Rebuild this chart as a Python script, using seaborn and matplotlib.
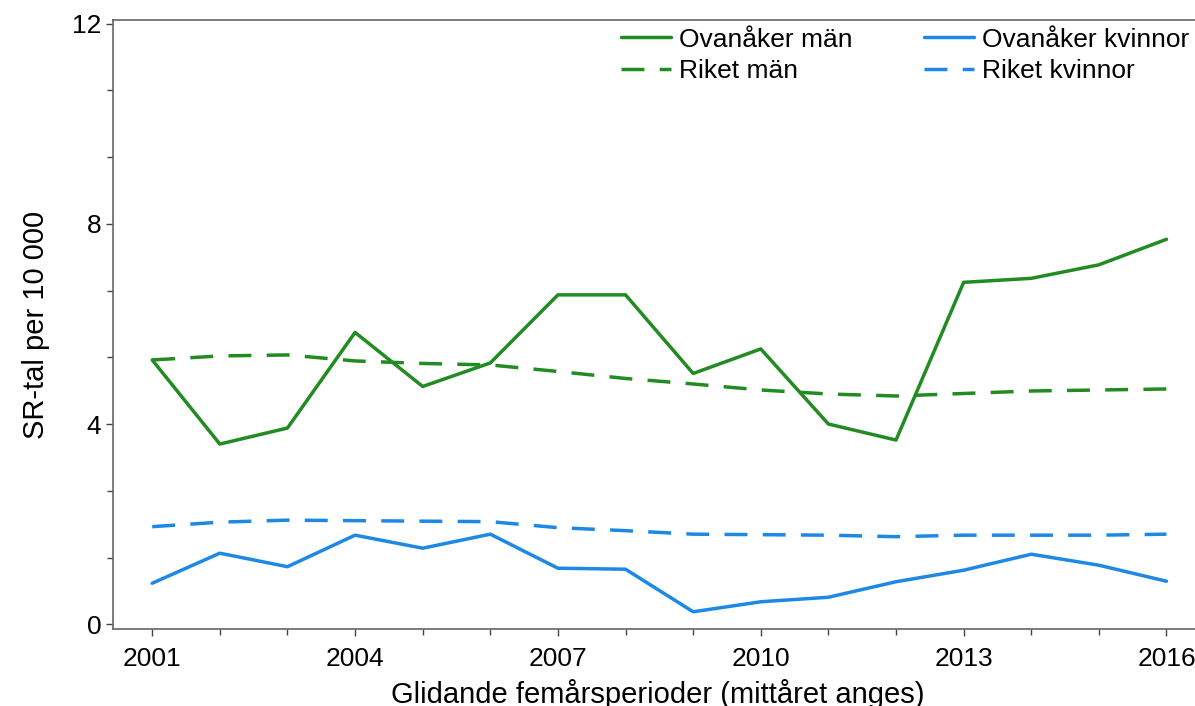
import matplotlib
matplotlib.use("Agg")
import matplotlib.pyplot as plt
import seaborn as sns
import pandas as pd
from matplotlib.ticker import MultipleLocator, FixedLocator

years = list(range(2001, 2017))

ovanaker_man = [5.28, 3.60, 3.92, 5.83, 4.75, 5.22, 6.58, 6.58, 5.01, 5.50, 4.00, 3.68, 6.83, 6.91, 7.18, 7.69]
riket_man = [5.28, 5.36, 5.38, 5.26, 5.21, 5.18, 5.05, 4.91, 4.80, 4.68, 4.60, 4.56, 4.61, 4.66, 4.68, 4.70]
ovanaker_kvinnor = [0.82, 1.42, 1.15, 1.78, 1.52, 1.80, 1.12, 1.10, 0.25, 0.45, 0.54, 0.85, 1.08, 1.40, 1.18, 0.86]
riket_kvinnor = [1.95, 2.04, 2.08, 2.07, 2.06, 2.05, 1.93, 1.87, 1.80, 1.79, 1.78, 1.75, 1.78, 1.78, 1.78, 1.80]

series_names = ["Ovanåker män", "Riket män", "Ovanåker kvinnor", "Riket kvinnor"]
series_values = [ovanaker_man, riket_man, ovanaker_kvinnor, riket_kvinnor]

green = "#228B22"
blue = "#1E88E5"
colors = {"Ovanåker män": green, "Riket män": green,
          "Ovanåker kvinnor": blue, "Riket kvinnor": blue}
dashes = {"Ovanåker män": "", "Riket män": (6.6, 4.4),
          "Ovanåker kvinnor": "", "Riket kvinnor": (6.6, 4.4)}

df = pd.concat([pd.DataFrame({"year": years, "value": v, "serie": n})
                for n, v in zip(series_names, series_values)], ignore_index=True)

sns.set_style("ticks")
plt.rcParams["font.family"] = ["Liberation Sans", "DejaVu Sans"]
plt.rcParams["text.color"] = "black"
plt.rcParams["axes.labelcolor"] = "black"

fig = plt.figure(figsize=(11.95, 7.06), dpi=100)
ax = fig.add_axes([113 / 1195, 77 / 706, 1090 / 1195, 609 / 706])

sns.lineplot(data=df, x="year", y="value", hue="serie", style="serie",
             palette=colors, dashes=dashes, hue_order=series_names,
             style_order=series_names, linewidth=2.5, ax=ax, legend=True)

ax.set_xlim(2000.42, 2016.54)
ax.set_ylim(-0.094, 12.07)
ax.xaxis.set_major_locator(FixedLocator([2001, 2004, 2007, 2010, 2013, 2016]))
ax.xaxis.set_minor_locator(MultipleLocator(1))
ax.yaxis.set_major_locator(FixedLocator([0, 4, 8, 12]))
ax.yaxis.set_minor_locator(MultipleLocator(4 / 3))
ax.tick_params(which="major", length=5, width=1, colors="#444444", labelcolor="black", labelsize=19)
ax.tick_params(axis="x", which="major", pad=8)
ax.tick_params(which="minor", length=4, width=1, colors="#444444")
for side in ["left", "top", "bottom"]:
    ax.spines[side].set_color("#666666")
    ax.spines[side].set_linewidth(1.2)
ax.spines["right"].set_visible(False)

ax.set_xlabel("Glidande femårsperioder (mittåret anges)", fontsize=21, labelpad=6, color="black")
ax.set_ylabel("SR-tal per 10 000", fontsize=21, labelpad=16, color="black")

handles, labels = ax.get_legend_handles_labels()
leg = ax.legend(handles=handles, labels=labels, ncol=2, loc="upper right", frameon=False,
                fontsize=19, handlelength=1.9, handletextpad=0.3, columnspacing=2.7,
                labelspacing=0.3, borderaxespad=0.0, bbox_to_anchor=(0.997, 1.005))
for t in leg.get_texts():
    t.set_color("black")

fig.savefig("out.png", dpi=100)
